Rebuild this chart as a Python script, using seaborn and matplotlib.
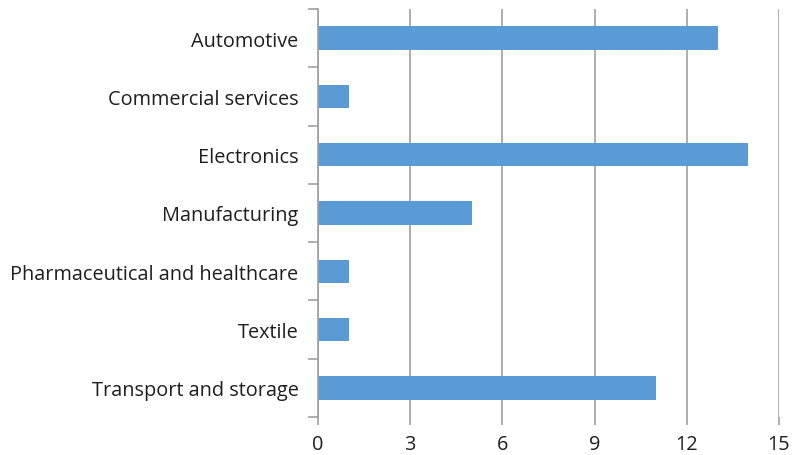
import matplotlib
matplotlib.use("Agg")
import matplotlib.pyplot as plt
from matplotlib.ticker import FixedLocator
import seaborn as sns
import pandas as pd

sectors = [
    "Automotive",
    "Commercial services",
    "Electronics",
    "Manufacturing",
    "Pharmaceutical and healthcare",
    "Textile",
    "Transport and storage",
]
counts = [13, 1, 14, 5, 1, 1, 11]
x_ticks = [0, 3, 6, 9, 12, 15]

df = pd.DataFrame({"sector": sectors, "count": counts})

sns.set_theme(style="white")
plt.rcParams["font.family"] = ["Open Sans", "DejaVu Sans"]

grid_color = "#A0A0A0"
text_color = "#1F1F1F"

fig = plt.figure(figsize=(7.93, 4.56), dpi=100)
ax = fig.add_axes([318 / 793, 1 - 418 / 456, (779 - 318) / 793, (418 - 10) / 456])

sns.barplot(data=df, x="count", y="sector", orient="h", color="#5B9BD5",
            saturation=1, width=0.4, ax=ax, zorder=3, linewidth=0)

ax.set_xlim(0, 15)
ax.set_ylim(len(sectors) - 0.5, -0.5)
ax.set_xticks(x_ticks)
ax.set_xlabel("")
ax.set_ylabel("")

# vertical gridlines
ax.xaxis.grid(True, color=grid_color, linewidth=1.2, zorder=0)
ax.set_axisbelow(True)

for side in ["top", "right", "bottom"]:
    ax.spines[side].set_visible(False)
ax.spines["left"].set_color(grid_color)
ax.spines["left"].set_linewidth(1.2)
ax.spines["left"].set_zorder(4)

ax.tick_params(axis="x", which="major", direction="out", length=6, width=1.2,
               color=grid_color, labelsize=14.3, labelcolor=text_color, pad=6,
               bottom=True)
ax.tick_params(axis="y", which="major", length=0, labelsize=14.3,
               labelcolor=text_color, pad=14)
# category separators on the y axis
ax.yaxis.set_minor_locator(FixedLocator([i - 0.5 for i in range(len(sectors) + 1)]))
ax.tick_params(axis="y", which="minor", direction="out", length=7, width=1.2,
               color=grid_color, left=True)

fig.savefig("out.png", dpi=100)
